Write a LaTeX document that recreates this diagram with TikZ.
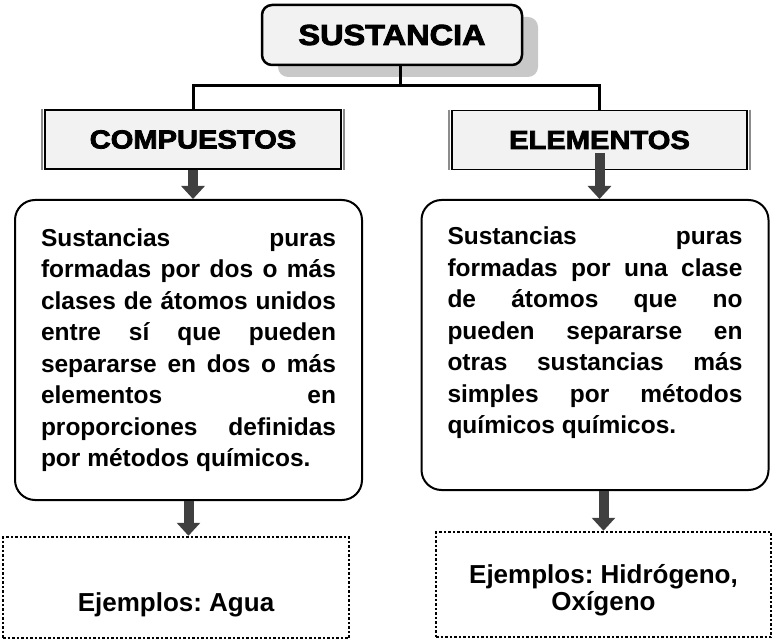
\documentclass[tikz,border=0pt]{standalone}
\usepackage{fontspec}
\setmainfont{Liberation Sans}
\newfontfamily\headfont{Liberation Sans}[FakeStretch=1.12,BoldFeatures={FakeBold=3}]
\usepackage{tikz}
\usetikzlibrary{positioning, arrows.meta, shadows}
\definecolor{boxgray}{HTML}{F2F2F2}
\definecolor{shadegray}{HTML}{C8C8C8}
\definecolor{arrowgray}{HTML}{404040}
\definecolor{edgegray}{HTML}{8C8C8C}
\newcommand{\looseset}{\tolerance=10000\relax\hyphenpenalty=10000\relax}
\frenchspacing

\tikzset{
  topbox/.style={draw, line width=2.5pt, rounded corners=10pt, fill=boxgray,
    minimum width=260pt, minimum height=60pt,
    font=\headfont\bfseries\fontsize{29}{30}\selectfont,
    drop shadow={shadow xshift=16pt, shadow yshift=-12pt, fill=shadegray, opacity=1}},
  catbox/.style={draw, line width=1.5pt, fill=boxgray, minimum height=59pt,
    font=\headfont\bfseries\fontsize{26}{27}\selectfont},
  defbox/.style={draw, line width=2pt, rounded corners=20pt, text width=295pt,
    inner xsep=26pt, align=justify,
    font=\bfseries\fontsize{24.5}{31.5}\selectfont},
  exbox/.style={draw, line width=2.5pt, dash pattern=on 2.5pt off 2pt,
    font=\bfseries\fontsize{26}{26}\selectfont},
  conn/.style={line width=3pt, line join=miter},
  blockarrow/.style={arrowgray, line width=10pt, -{Triangle[width=23pt,length=13pt]}},
}

\begin{document}
\begin{tikzpicture}[x=1pt,y=-1pt]
\useasboundingbox (0,0) rectangle (774,644);

% top concept
\node[topbox] (sust) at (392,35) {SUSTANCIA};
\coordinate (bar) at (400,86);

% the two classes
\node[catbox, minimum width=296pt] (comp) at (193,139.5) {COMPUESTOS};
\node[catbox, minimum width=295pt] (elem) at (599.5,140) {ELEMENTOS};
\foreach \n in {comp,elem}{
  \draw[edgegray, line width=2pt] ([xshift=-2pt]\n.north west) -- ([xshift=-2pt]\n.south west);
  \draw[edgegray, line width=2pt] ([xshift=2pt]\n.north east) -- ([xshift=2pt]\n.south east);
}

% tree lines
\draw[conn] (comp.north) -- (comp.north |- bar) -- (elem.north |- bar) -- (elem.north);
\draw[conn] ([xshift=8pt]sust.south) -- (bar);

% definitions
\node[defbox, minimum height=300pt] (defcomp) at (188.5,350) {\looseset Sustancias puras\linebreak
formadas por dos o más\linebreak
clases de átomos unidos\linebreak
entre sí que pueden\linebreak
separarse en dos o más\linebreak
elementos en\linebreak
proporciones definidas\linebreak
por métodos químicos.\par\vspace{-6pt}};
\node[defbox, minimum height=290pt] (defelem) at (595,345) {\looseset Sustancias puras\linebreak
formadas por una clase\linebreak
de átomos que no\linebreak
pueden separarse en\linebreak
otras sustancias más\linebreak
simples por métodos\linebreak
químicos químicos.\par\vspace{-12pt}\strut};

% examples
\node[exbox, minimum width=346pt, minimum height=101pt] (excomp) at (176,587.5)
  {\raisebox{-11.5pt}[0pt][0pt]{\begin{tabular}{@{}c@{}}\strut\\Ejemplos: Agua\end{tabular}}};
\node[exbox, minimum width=335pt, minimum height=105pt] (exelem) at (603.5,584.5)
  {\raisebox{-13.5pt}[0pt][0pt]{\begin{tabular}{@{}c@{}}Ejemplos: Hidrógeno,\\Oxígeno\end{tabular}}};

% arrows
\draw[blockarrow] (comp.south) -- (comp.south |- defcomp.north);
\draw[blockarrow] ([yshift=17pt]elem.south) -- (elem.south |- defelem.north);
\draw[blockarrow] (defcomp.south) -- (defcomp.south |- excomp.north);
\draw[blockarrow] (exelem.north |- defelem.south) -- (exelem.north);
\end{tikzpicture}
\end{document}
